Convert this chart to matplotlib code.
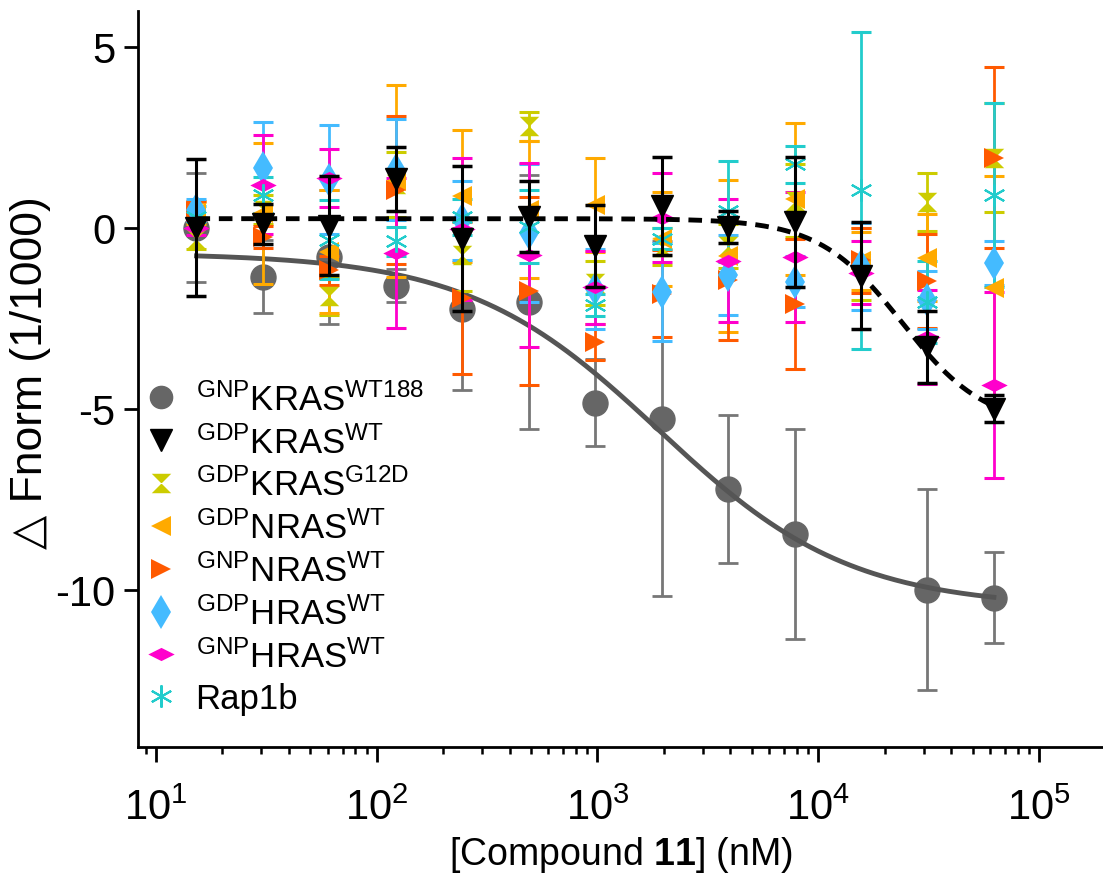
import numpy as np
import matplotlib
matplotlib.use("Agg")
import matplotlib.pyplot as plt
from matplotlib.lines import Line2D

plt.rcParams['font.family'] = ['Liberation Sans', 'DejaVu Sans']
plt.rcParams['mathtext.fontset'] = 'custom'
plt.rcParams['mathtext.rm'] = 'Liberation Sans'
plt.rcParams['mathtext.it'] = 'Liberation Sans:italic'
plt.rcParams['mathtext.bf'] = 'Liberation Sans:bold'

# compound 11 concentrations (nM), 1:1 dilution series
conc = [15.26, 30.52, 61.04, 122.1, 244.1, 488.3, 976.6, 1953, 3906, 7813, 15625, 31250, 62500]

nan = np.nan
kras_wt188 = [0.0, -1.35, -0.8, -1.6, -2.25, -2.05, -4.83, -5.28, -7.22, -8.47, nan, -10.0, -10.22]
kras_wt188_err = [1.5, 1.0, 1.85, 0.45, 2.23, 3.5, 1.2, 4.9, 2.05, 2.9, nan, 2.78, 1.26]

gdp_kras_wt = [0.0, 0.1, 0.05, 1.35, -0.3, 0.3, -0.5, 0.6, 0.02, 0.15, -1.33, -3.3, -5.0]
gdp_kras_wt_err = [1.9, 0.55, 1.37, 0.88, 2.0, 0.98, 1.13, 1.35, 0.43, 1.8, 1.48, 1.0, 0.38]

gdp_kras_g12d = [-0.3, 0.5, -1.9, 1.2, -0.75, 2.8, -1.53, -0.52, -0.5, 0.75, -1.0, 0.7, 1.94]
gdp_kras_g12d_err = [0.3, 0.4, 0.5, 0.9, 1.0, 0.4, 0.6, 0.5, 0.6, 1.0, 1.0, 0.8, 1.5]

gdp_nras_wt = [0.4, 0.4, -0.67, 1.3, 0.87, 0.5, 0.64, -0.3, -0.78, 0.78, -0.93, -0.83, -1.66]
gdp_nras_wt_err = [0.3, 1.95, 1.7, 2.65, 1.83, 1.9, 1.3, 1.3, 2.1, 2.1, 0.8, 1.2, 3.1]

gnp_nras_wt = [0.45, -0.25, -1.17, 1.05, -1.95, -1.75, -3.16, -1.82, -1.45, -2.1, -0.9, -1.47, 1.94]
gnp_nras_wt_err = [0.3, 0.3, 0.4, 2.05, 2.1, 2.6, 0.5, 1.2, 1.65, 1.8, 0.9, 1.3, 2.5]

gdp_hras_wt = [0.5, 1.66, 1.33, 1.6, 0.2, -0.14, -1.7, -1.77, -1.3, -1.49, -1.07, -2.0, -0.98]
gdp_hras_wt_err = [0.3, 1.25, 1.5, 1.4, 1.1, 1.9, 1.1, 1.35, 1.1, 0.7, 1.2, 0.8, 0.6]

gnp_hras_wt = [0.0, 1.19, 1.38, -0.7, -0.03, -0.75, -1.65, 0.27, -0.91, -0.8, -1.24, -3.02, -4.34]
gnp_hras_wt_err = [0.2, 1.37, 0.8, 2.07, 1.97, 2.55, 1.0, 1.23, 1.7, 1.8, 0.86, 1.3, 2.57]

rap1b = [0.3, 0.9, -0.33, -0.38, 0.3, 0.03, -2.14, -0.3, 0.45, 1.75, 1.03, -2.05, 0.9]
rap1b_err = [0.3, 0.5, 1.1, 0.4, 0.5, 1.0, 0.3, 0.3, 1.4, 0.52, 4.38, 1.13, 2.55]

# Hill fit parameters (top, bottom, EC50 nM, slope)
fit_wt188 = (-0.7, -10.5, 1900.0, 1.0)
fit_gdp_wt = (0.25, -5.5, 24000.0, 2.3)

hourglass = [(-1, 1), (1, 1), (-1, -1), (1, -1), (-1, 1)]
wide_diamond = [(-1, 0), (0, 0.5), (1, 0), (0, -0.5), (-1, 0)]

series = [
    (gdp_kras_g12d, gdp_kras_g12d_err, '#CCCC00', hourglass, 14, r'$^{\mathrm{GDP}}$KRAS$^{\mathrm{G12D}}$'),
    (gdp_nras_wt, gdp_nras_wt_err, '#FFAA00', '<', 15, r'$^{\mathrm{GDP}}$NRAS$^{\mathrm{WT}}$'),
    (gnp_nras_wt, gnp_nras_wt_err, '#FF5A00', '>', 15, r'$^{\mathrm{GNP}}$NRAS$^{\mathrm{WT}}$'),
    (gdp_hras_wt, gdp_hras_wt_err, '#44BBFF', 'd', 17, r'$^{\mathrm{GDP}}$HRAS$^{\mathrm{WT}}$'),
    (gnp_hras_wt, gnp_hras_wt_err, '#FF00CC', wide_diamond, 19, r'$^{\mathrm{GNP}}$HRAS$^{\mathrm{WT}}$'),
    (rap1b, rap1b_err, '#22CCCC', (6, 2, 0), 16, 'Rap1b'),
]


def hill(x, top, bottom, ec50, h):
    return bottom + (top - bottom) / (1 + (x / ec50) ** h)


fig = plt.figure(figsize=(11.03, 8.78), dpi=100)
ax = fig.add_axes([0.125, 0.148, 0.875, 0.838])
ax.set_xscale('log')

ax.errorbar(conc, kras_wt188, yerr=kras_wt188_err, fmt='o', color='#666666', ecolor='#777777',
            ms=18, elinewidth=2, capsize=7, capthick=2, zorder=2)
xs = np.logspace(np.log10(conc[0]), np.log10(conc[-1]), 300)
ax.plot(xs, hill(xs, *fit_wt188), color='#555555', lw=3.5, zorder=3)

for y, e, c, m, ms, lab in series:
    ax.errorbar(conc, y, yerr=e, fmt='none', ecolor=c, elinewidth=2, capsize=7, capthick=2.2, zorder=4)
    ax.plot(conc, y, ls='none', marker=m, color=c, ms=ms, mew=1.5 if m == (6, 2, 0) else 0, zorder=5)

ax.errorbar(conc, gdp_kras_wt, yerr=gdp_kras_wt_err, fmt='v', color='black', ms=16,
            elinewidth=2.2, capsize=7, capthick=2.5, zorder=6)
ax.plot(xs, hill(xs, *fit_gdp_wt), color='black', lw=3.5, ls=(0, (2.8, 1.8)), zorder=7)

ax.set_xlim(8.28, 1.95e5)
ax.set_ylim(-14.35, 5.98)
ax.set_yticks([-10, -5, 0, 5])
ax.set_yticklabels(['-10', '-5', '0', '5'])
ax.spines['top'].set_visible(False)
ax.spines['right'].set_visible(False)
ax.spines['left'].set_linewidth(2)
ax.spines['bottom'].set_linewidth(2)
ax.tick_params(axis='y', which='major', labelsize=30, width=2, length=10, direction='out', pad=6)
ax.tick_params(axis='x', which='minor', width=1.8, length=5)
ax.tick_params(axis='x', which='major', labelsize=30, width=2, length=11, pad=18)

ax.set_xlabel(r'[Compound $\mathbf{11}$] (nM)', fontsize=27)
ax.xaxis.set_label_coords(0.5, -0.118)
ax.set_ylabel('\u25b3 Fnorm (1/1000)', fontsize=32)
ax.yaxis.set_label_coords(-0.09, 0.51)

handles = [Line2D([], [], ls='none', marker='o', color='#666666', ms=16),
           Line2D([], [], ls='none', marker='v', color='black', ms=16)]
labels = [r'$^{\mathrm{GNP}}$KRAS$^{\mathrm{WT188}}$', r'$^{\mathrm{GDP}}$KRAS$^{\mathrm{WT}}$']
for y, e, c, m, ms, lab in series:
    handles.append(Line2D([], [], ls='none', marker=m, color=c, ms=ms,
                          mew=1.5 if m == (6, 2, 0) else 0))
    labels.append(lab)
ax.legend(handles, labels, loc='upper left', bbox_to_anchor=(-0.005, 0.515), frameon=False,
          fontsize=25, handlelength=0.8, handletextpad=0.6, labelspacing=0.24, borderaxespad=0)

fig.savefig('out.png', dpi=100)
